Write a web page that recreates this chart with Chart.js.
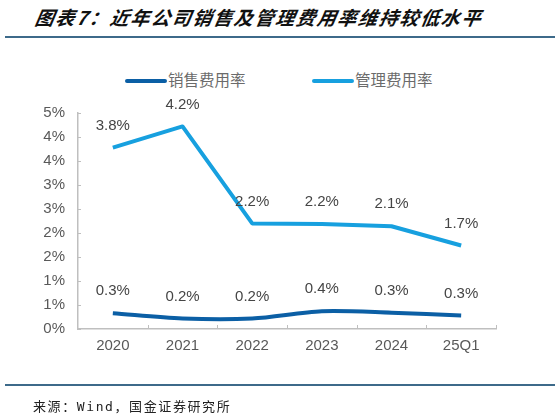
<!DOCTYPE html>
<html>
<head>
<meta charset="utf-8">
<script src="https://cdn.jsdelivr.net/npm/chart.js@4/dist/chart.umd.min.js"></script>
<style>
  html, body { margin: 0; padding: 0; background: #fff; }
  body { width: 559px; height: 416px; position: relative; overflow: hidden; }
  #title { position: absolute; left: 33px; top: 3px; font-family: "Noto Sans CJK SC", sans-serif; font-weight: bold; font-style: italic; font-size: 19px; letter-spacing: 1.7px; color: #111; white-space: nowrap; transform: skewX(-10deg); transform-origin: left bottom; }
  .rule { position: absolute; left: 5px; width: 550px; height: 1.5px; background: #3d6a8a; }
  #source { position: absolute; left: 33px; top: 396px; font-family: "DejaVu Sans Mono", "Noto Sans CJK SC", monospace; font-size: 13px; letter-spacing: 1.6px; color: #222; white-space: nowrap; }
  .leg { position: absolute; top: 69px; font-family: "Noto Sans CJK SC", sans-serif; font-size: 15.5px; color: #6b6b6b; white-space: nowrap; line-height: 20px; }
  .leg span.sw { display: inline-block; width: 42px; height: 4px; border-radius: 2px; vertical-align: middle; margin-right: 1px; position: relative; top: -1px; }
  #wrap { position: absolute; left: 0; top: 0; width: 559px; height: 416px; }
</style>
</head>
<body>
<div id="title">图表7：近年公司销售及管理费用率维持较低水平</div>
<div class="rule" style="top:36px"></div>
<div class="leg" style="left:125px"><span class="sw" style="background:#0b5fa5"></span>销售费用率</div>
<div class="leg" style="left:312px"><span class="sw" style="background:#17a0df"></span>管理费用率</div>
<div id="wrap"><canvas id="c"></canvas></div>
<div class="rule" style="top:384px"></div>
<div id="source">来源：Wind，国金证券研究所</div>
<script>
const categories = ["2020", "2021", "2022", "2023", "2024", "25Q1"];
const sellingRate = [0.33, 0.22, 0.22, 0.37, 0.34, 0.28];
const adminRate = [3.78, 4.22, 2.20, 2.19, 2.14, 1.74];
const seriesNames = ["销售费用率", "管理费用率"];
const yMax = 4.5;
const yStep = 0.5;

const labelPlugin = {
  id: 'labels',
  afterDatasetsDraw(chart) {
    const ctx = chart.ctx;
    ctx.save();
    ctx.font = '15px "Liberation Sans", Arial, sans-serif';
    ctx.fillStyle = '#454545';
    ctx.textAlign = 'center';
    ctx.textBaseline = 'middle';
    chart.data.datasets.forEach((ds, di) => {
      const meta = chart.getDatasetMeta(di);
      meta.data.forEach((pt, i) => {
        ctx.fillText(ds.data[i].toFixed(1) + '%', pt.x, pt.y - 22);
      });
    });
    ctx.restore();
  },
  afterDraw(chart) {
    const ctx = chart.ctx;
    const x = chart.scales.x, y = chart.scales.y;
    ctx.save();
    ctx.strokeStyle = '#bfbfbf';
    ctx.lineWidth = 1;
    const n = categories.length;
    const step = (x.right - x.left) / n;
    for (let k = 1; k <= n; k++) {
      const px = Math.round(x.left + k * step) + 0.5;
      ctx.beginPath(); ctx.moveTo(px, y.bottom); ctx.lineTo(px, y.bottom - 4); ctx.stroke();
    }
    y.ticks.forEach(t => {
      const py = Math.round(y.getPixelForValue(t.value)) + 0.5;
      ctx.beginPath(); ctx.moveTo(x.left, py); ctx.lineTo(x.left + 3, py); ctx.stroke();
    });
    ctx.restore();
  }
};

new Chart(document.getElementById('c'), {
  type: 'line',
  data: {
    labels: categories,
    datasets: [
      { label: seriesNames[0], data: sellingRate, borderColor: '#0b5fa5', backgroundColor: '#0b5fa5', borderWidth: 4, pointRadius: 0, tension: 0.3, borderCapStyle: 'butt' },
      { label: seriesNames[1], data: adminRate, borderColor: '#17a0df', backgroundColor: '#17a0df', borderWidth: 4, pointRadius: 0, tension: 0, borderJoinStyle: 'round' }
    ]
  },
  options: {
    responsive: true,
    maintainAspectRatio: false,
    animation: false,
    layout: { padding: { left: 0, right: 63, top: 113, bottom: 57 } },
    plugins: { legend: { display: false }, tooltip: { enabled: false } },
    scales: {
      x: {
        offset: true,
        grid: { display: false, drawTicks: false },
        border: { color: '#bfbfbf', width: 1.5 },
        ticks: { padding: 8, color: '#595959', font: { size: 15, family: '"Liberation Sans", Arial, sans-serif' }, maxRotation: 0 },
        afterFit(s) { s.height = 30; }
      },
      y: {
        min: 0, max: yMax,
        grid: { display: false, drawTicks: false },
        border: { color: '#bfbfbf', width: 1.5 },
        ticks: { stepSize: yStep, padding: 13, color: '#595959', font: { size: 15, family: '"Liberation Sans", Arial, sans-serif' }, callback: v => Math.round(v) + '%' },
        afterFit(s) { s.width = 78; }
      }
    }
  },
  plugins: [labelPlugin]
});
</script>
</body>
</html>
